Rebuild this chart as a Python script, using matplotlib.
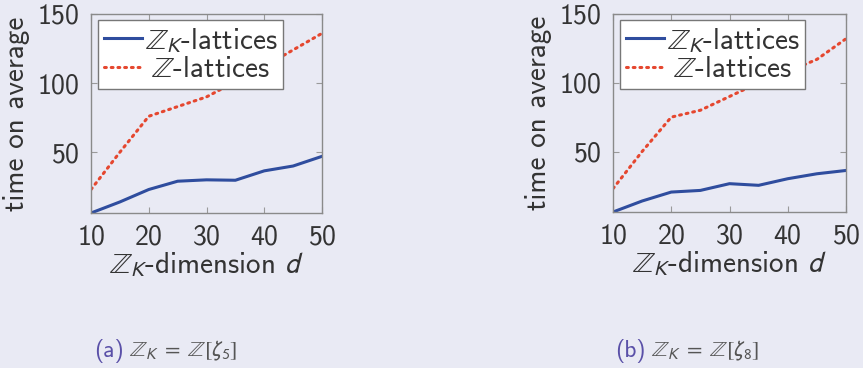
import matplotlib
matplotlib.use("Agg")
import matplotlib.pyplot as plt

# timings for Z_K-lattices vs Z-lattices, two cyclotomic rings
dims = [10, 15, 20, 25, 30, 35, 40, 45, 50]
zk_a = [6, 14, 23, 29, 30, 29.7, 36.5, 40, 47]
z_a = [23, 50, 76, 83, 90, 101, 112, 124, 136]
zk_b = [6, 14, 20.5, 21.7, 26.6, 25.4, 30.2, 33.8, 36.2]
z_b = [23, 50, 75, 80, 90, 100, 108, 117, 132]
yticks = [50, 100, 150]
xticks = [10, 20, 30, 40, 50]
captions = [("(a)", r"$\mathbb{Z}_K \;=\; \mathbb{Z}[\zeta_5]$"),
            ("(b)", r"$\mathbb{Z}_K \;=\; \mathbb{Z}[\zeta_8]$")]

bg = "#e9eaf4"
txt = "#333333"
plt.rcParams["font.family"] = ["cmss10", "DejaVu Sans"]
plt.rcParams["mathtext.fontset"] = "stixsans"
plt.rcParams["axes.formatter.use_mathtext"] = True
plt.rcParams["axes.unicode_minus"] = False

W, H = 863, 368
fig = plt.figure(figsize=(W / 100, H / 100), dpi=100, facecolor=bg)

boxes = [(91, 14, 322, 213), (613, 14, 846, 212)]
series = [(zk_a, z_a), (zk_b, z_b)]
cap_x = [124, 646]
legends = []

for (x0, y0, x1, y1), (zk, zz), (tag, cap), cx in zip(boxes, series, captions, cap_x):
    ax = fig.add_axes([x0 / W, 1 - y1 / H, (x1 - x0) / W, (y1 - y0) / H])
    ax.set_facecolor(bg)
    ax.plot(dims, zk, color="#2f4d9e", lw=2.2, label=r"$\mathbb{Z}_K$-lattices")
    ax.plot(dims, zz, color="#e5472f", lw=2.2, ls=(0, (0.6, 1.6)),
            dash_capstyle="round", label=r"$\mathbb{Z}$-lattices")
    ax.set_xlim(10, 50)
    ax.set_ylim(6, 150)
    ax.set_xticks(xticks)
    ax.set_yticks(yticks)
    for s in ax.spines.values():
        s.set_color("#8a8a8a")
        s.set_linewidth(1.0)
    ax.tick_params(direction="in", length=4, color="#9a9a9a", top=True, right=True,
                   labelsize=20, labelcolor=txt, pad=8)
    ax.set_xlabel(r"$\mathbb{Z}_K$-dimension $d$", fontsize=21, color=txt, labelpad=1)
    ax.set_ylabel("time on average", fontsize=21, color=txt, labelpad=5)
    leg = ax.legend(loc="upper left", bbox_to_anchor=(0.03, 0.97), fontsize=21,
                    frameon=True, fancybox=False, handlelength=1.3, handletextpad=0.1,
                    borderpad=0.2, labelspacing=0.05, borderaxespad=0.0)
    leg.get_frame().set_edgecolor("#777777")
    leg.get_frame().set_facecolor("white")
    leg.get_frame().set_alpha(1)
    for t in leg.get_texts():
        t.set_color(txt)
    legends.append(leg)
    fig.text(cx / W, 1 - 351 / H, tag, ha="right", va="center", fontsize=17,
             color="#5a50a8")
    fig.text((cx + 5) / W, 1 - 351 / H, cap, ha="left", va="center", fontsize=16,
             color="#555555")

# centre the shorter legend entry under the longer one
fig.canvas.draw()
r = fig.canvas.get_renderer()
for leg in legends:
    t1, t2 = leg.get_texts()
    dx = (t1.get_window_extent(r).width - t2.get_window_extent(r).width) / 2
    t2.set_x(dx)

fig.savefig("out.png", dpi=100, facecolor=bg)
